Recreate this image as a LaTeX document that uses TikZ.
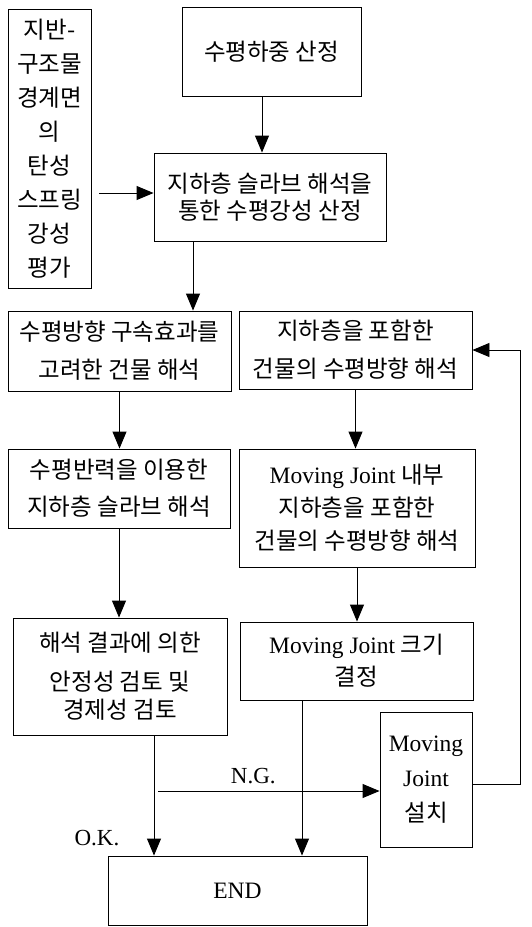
\documentclass[tikz,border=0pt]{standalone}
\usepackage{fontspec}
\setmainfont{Liberation Serif}
\newfontfamily\kr{Noto Sans CJK KR}
\usetikzlibrary{arrows.meta}

\begin{document}
\begin{tikzpicture}[->,>={Triangle[length=17pt,width=14pt]},x=1pt,y=-1pt,
                    line width=0.9pt]
  \tikzstyle{box}=[draw,align=center,inner sep=2pt,
                   font=\kr\fontsize{23.5}{35}\selectfont]
  \tikzstyle{lbl}=[font=\fontsize{23}{26}\selectfont]
  \useasboundingbox (0,0) rectangle (531,927);

  \node[box,minimum width=83pt,minimum height=279pt] (ground) at (49.5,148.5)
       {지반-\\[-1pt]구조물\\[-1pt]경계면\\[-1pt]의\\[-1pt]탄성\\[-1pt]스프링\\[-1pt]강성\\[-1pt]평가};
  \node[box,minimum width=179pt,minimum height=89pt] (load) at (271.5,51.5)
       {수평하중 산정};
  \node[box,minimum width=232pt,minimum height=88pt] (stiff) at (270,197)
       {지하층 슬라브 해석을\\[-8pt]통한 수평강성 산정};
  \node[box,minimum width=223pt,minimum height=80pt] (restr) at (119.5,351)
       {수평방향 구속효과를\\[3pt]고려한 건물 해석};
  \node[box,minimum width=233pt,minimum height=78pt] (incl) at (355.5,350)
       {지하층을 포함한\\[3pt]건물의 수평방향 해석};
  \node[box,minimum width=222pt,minimum height=79pt] (slab) at (119,488.5)
       {수평반력을 이용한\\[2pt]지하층 슬라브 해석};
  \node[box,minimum width=236pt,minimum height=118pt] (inner) at (357,508)
       {{\rmfamily Moving Joint} 내부\\[-2pt]지하층을 포함한\\[-2pt]건물의 수평방향 해석};
  \node[box,minimum width=214pt,minimum height=117pt] (check) at (120,676.5)
       {해석 결과에 의한\\[4pt]안정성 검토 및\\[-7pt]경제성 검토};
  \node[box,minimum width=233pt,minimum height=78pt] (size) at (356.5,661)
       {{\rmfamily Moving Joint} 크기\\[-3pt]결정};
  \node[box,minimum width=92pt,minimum height=135pt] (install) at (426,779.5)
       {{\rmfamily Moving}\\{\rmfamily Joint}\\설치};
  \node[box,minimum width=259pt,minimum height=69pt] (finish) at (237.5,890.5)
       {\rmfamily END};

  \coordinate (ng) at (158,791);
  \node[lbl] (ok) at (97,838) {O.K.};

  \draw ([xshift=-9.5]load.south) -- ([xshift=-9.5]load.south |- stiff.north);
  \draw[shorten <=8pt] ([yshift=4]ground.east |- stiff.west) -- ([yshift=4]stiff.west);
  \draw ([xshift=-77]stiff.south) -- ([xshift=-77]stiff.south |- restr.north);
  \draw (restr.south) -- (restr.south |- slab.north);
  \draw (slab.south) -- (slab.south |- check.north);
  \draw (incl.south) -- (incl.south |- inner.north);
  \draw (inner.south) -- (inner.south |- size.north);
  \draw ([xshift=34]check.south) -- ([xshift=34]check.south |- finish.north);
  \draw ([xshift=-54.5]size.south) -- ([xshift=-54.5]size.south |- finish.north);
  \draw (ng) -- (ng -| install.west) node[lbl,pos=0.43,above=3pt] {N.G.};
  \draw ([yshift=-5]install.east) -- ++(48,0) |- (incl.east);
\end{tikzpicture}
\end{document}
